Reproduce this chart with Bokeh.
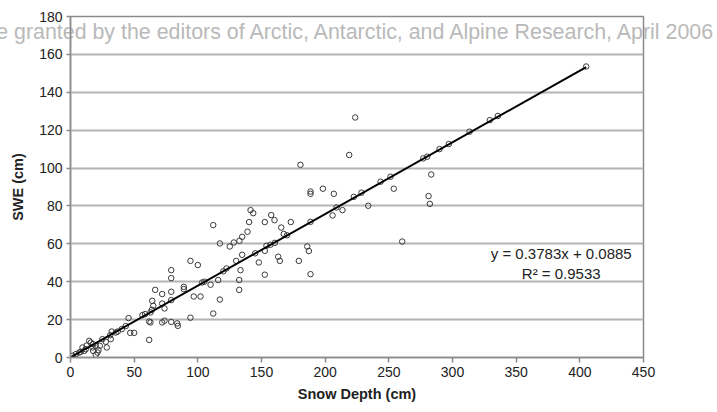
from bokeh.plotting import figure
from bokeh.models import Range1d, FixedTicker, Label, LinearAxis
from bokeh.embed import file_html
from bokeh.resources import INLINE

# Snow depth (cm) and SWE (cm) for each sample
snow_depth = [1.6, 4.2, 6.8, 8.0, 9.4, 10.8, 12.0, 12.6, 14.7, 16.0, 17.3, 17.8, 17.8, 19.9, 19.9,
              21.2, 22.0, 23.0, 25.1, 27.7, 28.5, 31.2, 31.6, 32.4, 35.6, 37.1, 40.3, 43.4, 45.6,
              46.9, 50.0, 56.5, 58.6, 61.8, 61.8, 62.8, 63.9, 62.8, 64.2, 65.0, 66.5, 72.0, 72.0,
              73.8, 72.0, 73.8, 79.1, 83.8, 84.3, 79.1, 79.1, 79.1, 79.1, 89.0, 89.0, 94.2, 94.2,
              96.8, 100.0, 102.1, 103.4, 105.2, 110.0, 112.1, 112.1, 116.0, 117.3, 117.3, 122.5,
              125.1, 128.3, 130.1, 132.5, 132.5, 132.7, 133.5, 134.8, 134.8, 139.0, 140.3, 141.4,
              143.5, 147.9, 152.6, 152.6, 152.6, 153.9, 157.6, 160.2, 163.1, 164.4, 165.5, 167.5,
              173.0, 179.3, 180.6, 185.9, 187.2, 188.5, 188.5, 188.5, 188.5, 198.2, 205.8, 206.8,
              208.9, 213.6, 218.9, 222.5, 223.6, 228.5, 233.8, 243.5, 251.3, 253.9, 260.5, 277.0,
              280.1, 281.2, 282.2, 283.3, 289.8, 297.1, 313.4, 329.3, 335.6, 405.0,
              157.0, 160.5, 170.0, 145.0, 120.0]
swe = [0.9, 1.8, 2.6, 3.0, 5.3, 3.5, 4.4, 6.3, 8.8, 7.9, 5.3, 3.5, 7.1, 1.4, 6.2,
       2.6, 3.9, 6.2, 9.7, 8.3, 5.3, 11.8, 9.7, 13.7, 13.2, 13.7, 15.0, 16.6, 20.8,
       13.0, 13.0, 22.4, 22.9, 19.0, 9.3, 23.8, 25.2, 18.5, 29.9, 27.3, 35.7, 33.5, 28.5,
       25.9, 18.5, 19.4, 18.8, 18.0, 16.7, 46.1, 41.9, 34.7, 30.3, 37.3, 36.1, 51.0, 21.0,
       32.2, 48.8, 32.2, 39.6, 40.0, 38.4, 69.9, 23.2, 40.9, 30.6, 60.2, 47.0,
       58.6, 60.7, 51.0, 40.9, 35.7, 61.6, 46.1, 63.7, 54.2, 66.4, 71.5, 77.8,
       76.2, 50.2, 71.5, 56.3, 43.7, 59.0, 75.2, 72.5, 53.2, 51.0, 68.6, 65.2,
       71.5, 51.0, 101.7, 58.6, 56.2, 44.0, 71.6, 87.6, 86.4, 89.1, 75.0, 86.4,
       79.2, 77.8, 106.9, 84.8, 126.7, 87.0, 80.1, 92.8, 95.4, 89.1, 61.2, 105.1,
       106.0, 85.2, 81.1, 96.6, 110.0, 112.7, 119.2, 125.3, 127.5, 153.6,
       59.5, 60.5, 64.5, 55.0, 45.5]

# Linear fit shown on the chart
slope = 0.3783
intercept = 0.0885
equation_text = "y = 0.3783x + 0.0885"
r2_text = "R\u00b2 = 0.9533"
watermark = "e granted by the editors of Arctic, Antarctic, and Alpine Research, April 2006"

x_ticks = [0, 50, 100, 150, 200, 250, 300, 350, 400, 450]
y_ticks = [0, 20, 40, 60, 80, 100, 120, 140, 160, 180]

FONT = "Liberation Sans"

p = figure(width=717, height=412, output_backend="svg", toolbar_location=None,
           x_range=Range1d(0, 450), y_range=Range1d(0, 180),
           min_border_left=70, min_border_right=74, min_border_top=16, min_border_bottom=55)

p.background_fill_color = "white"
p.outline_line_color = "#8a8a8a"
p.outline_line_width = 1.5

p.xgrid.visible = False
p.ygrid.ticker = FixedTicker(ticks=y_ticks)
p.ygrid.grid_line_color = "#b4b4b4"
p.ygrid.grid_line_width = 1.8

for ax in (p.xaxis[0], p.yaxis[0]):
    ax.axis_line_color = "#8a8a8a"
    ax.axis_line_width = 1.5
    ax.major_tick_line_color = "#8a8a8a"
    ax.major_tick_line_width = 1.5
    ax.minor_tick_line_color = None
    ax.major_tick_in = 0
    ax.major_label_text_font = FONT
    ax.major_label_text_font_size = "14px"
    ax.major_label_text_color = "#222222"
    ax.axis_label_text_font = FONT
    ax.axis_label_text_font_size = "14.5px"
    ax.axis_label_text_font_style = "bold"
    ax.axis_label_text_color = "#222222"

p.xaxis.ticker = FixedTicker(ticks=x_ticks)
p.yaxis.ticker = FixedTicker(ticks=y_ticks)
p.xaxis.major_tick_out = 5
p.yaxis.major_tick_out = 4
p.xaxis.major_label_standoff = 4
p.yaxis.major_label_standoff = 4
p.xaxis.axis_label = "Snow Depth (cm)"
p.yaxis.axis_label = "SWE (cm)"
p.xaxis.axis_label_standoff = 6
p.yaxis.axis_label_standoff = 10

p.scatter(snow_depth, swe, marker="circle", size=5.5, fill_color=None,
          line_color="#3a3a3a", line_width=1)

x_fit = [0, max(snow_depth)]
y_fit = [slope * v + intercept for v in x_fit]
p.line(x_fit, y_fit, line_color="black", line_width=2)

p.add_layout(Label(x=385.4, y=55.1, text=equation_text, text_align="center",
                   text_baseline="middle", text_font=FONT, text_font_size="15px",
                   text_color="#222222"))
p.add_layout(Label(x=385.4, y=44.3, text=r2_text, text_align="center",
                   text_baseline="middle", text_font=FONT, text_font_size="15px",
                   text_color="#222222"))

# Watermark: drawn as the label of a bare axis above, pulled down over the plot
wm_axis = LinearAxis(ticker=FixedTicker(ticks=[]), axis_label=watermark,
                     axis_line_color=None, major_tick_line_color=None,
                     minor_tick_line_color=None, major_label_text_font_size="0px",
                     axis_label_standoff=-27, axis_label_text_font=FONT,
                     axis_label_text_font_size="21.4px", axis_label_text_font_style="normal",
                     axis_label_text_color="#b9b9b9")
p.add_layout(wm_axis, "above")

open("out.html", "w").write(file_html(p, INLINE))
